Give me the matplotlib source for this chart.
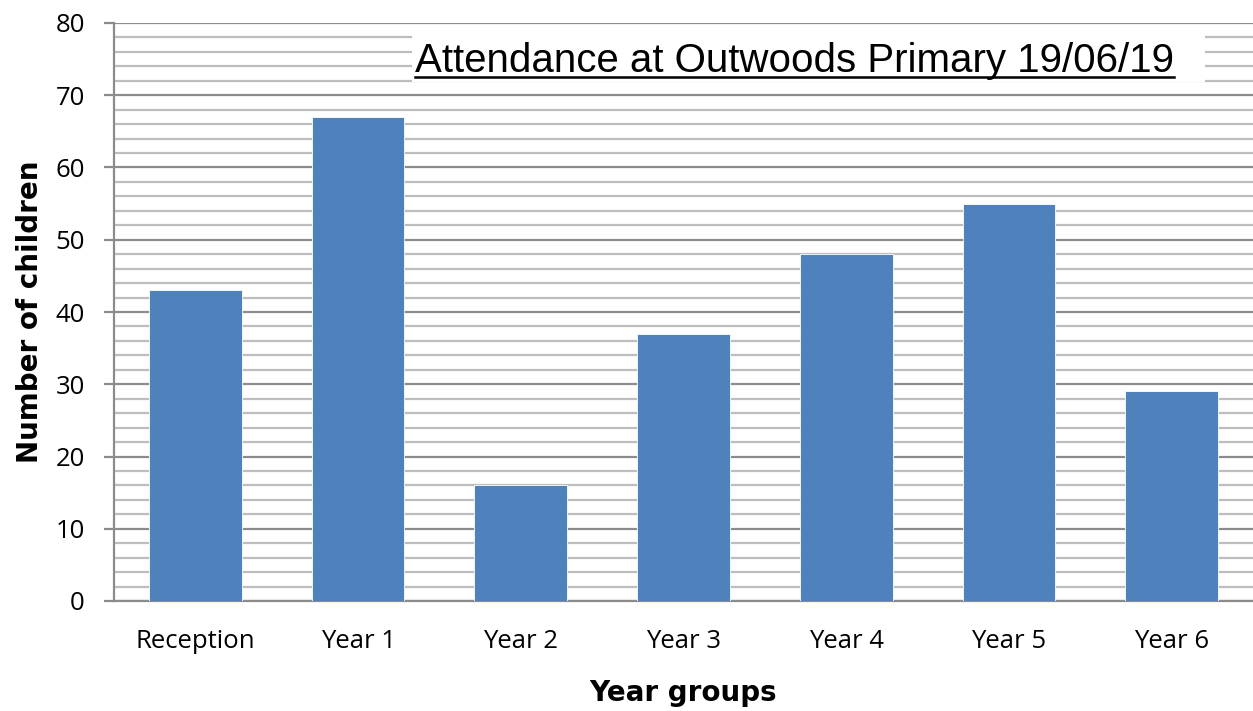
import matplotlib.pyplot as plt
from matplotlib.ticker import MultipleLocator
from matplotlib.lines import Line2D
from matplotlib.patches import Rectangle

# Data
groups = ["Reception", "Year 1", "Year 2", "Year 3", "Year 4", "Year 5", "Year 6"]
children = [43, 67, 16, 37, 48, 55, 29]

fig = plt.figure(figsize=(12.53, 7.11), dpi=100)
ax = fig.add_axes([114 / 1253, 110 / 711, 1 - 114 / 1253, 578 / 711])

ax.bar(range(len(groups)), children, width=0.57, color="#4f81bd",
       edgecolor="white", linewidth=0.6, zorder=3)

ax.set_xlim(-0.5, 6.5)
ax.set_ylim(0, 80)
ax.yaxis.set_major_locator(MultipleLocator(10))
ax.yaxis.set_minor_locator(MultipleLocator(2))
ax.grid(axis="y", which="major", color="#8c8c8c", linewidth=1.6, zorder=1)
ax.grid(axis="y", which="minor", color="#bdbdbd", linewidth=1.6, zorder=1)

for s in ["top", "right"]:
    ax.spines[s].set_visible(False)
for s in ["left", "bottom"]:
    ax.spines[s].set_color("#8c8c8c")
    ax.spines[s].set_linewidth(1.6)

ax.set_xticks(range(len(groups)))
ax.set_xticklabels(groups, fontfamily="Open Sans", fontsize=18.5)
for lab in ax.get_yticklabels():
    lab.set_fontfamily("Open Sans")
    lab.set_fontsize(18.5)
ax.tick_params(axis="y", which="major", length=7, width=1.6, color="#8c8c8c", pad=14)
ax.tick_params(axis="y", which="minor", length=0)
ax.tick_params(axis="x", length=0, pad=20)

ax.set_ylabel("Number of children", fontsize=20, fontweight="bold", labelpad=8)
ax.set_xlabel("Year groups", fontsize=20, fontweight="bold", labelpad=18)

# white box behind the title, hiding the grid
fig.add_artist(Rectangle((412 / 1253, 1 - 82 / 711), 793 / 1253, 52 / 711,
                         transform=fig.transFigure, facecolor="white",
                         edgecolor="none", zorder=4))
title = fig.text(415 / 1253, 1 - 61 / 711, "Attendance at Outwoods Primary 19/06/19",
                 ha="left", va="center", fontfamily="Liberation Sans",
                 fontsize=29, zorder=5)

# underline the title
fig.canvas.draw()
bb = title.get_window_extent(fig.canvas.get_renderer())
x0, x1 = bb.x0 / fig.bbox.width, bb.x1 / fig.bbox.width
yl = (bb.y0 + 3) / fig.bbox.height
fig.add_artist(Line2D([x0, x1], [yl, yl], color="black", linewidth=1.8, zorder=6))

fig.savefig("out.png", dpi=100)
